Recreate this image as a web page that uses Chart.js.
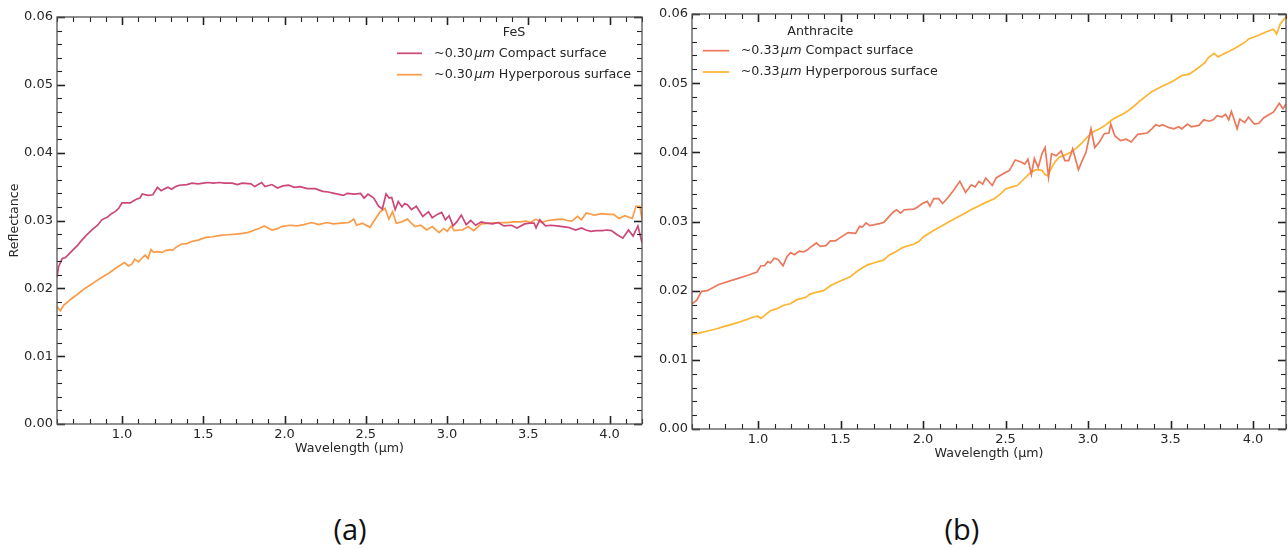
<!DOCTYPE html>
<html>
<head>
<meta charset="utf-8">
<script src="https://cdn.jsdelivr.net/npm/chart.js@4.4.1/dist/chart.umd.min.js"></script>
<style>
  html, body { margin: 0; padding: 0; background: #ffffff; }
  body { width: 1288px; height: 549px; position: relative; overflow: hidden; }
  canvas { position: absolute; top: 0; }
  #cA { left: 0; }
  #cB { left: 650px; }
  .cap { position: absolute; font-family: "Open Sans", "Noto Sans", sans-serif; font-size: 29px; line-height: 1; color: #111; transform: translate(-50%, -50%); }
</style>
</head>
<body>
<canvas id="cA" width="650" height="470"></canvas>
<canvas id="cB" width="638" height="470"></canvas>
<div class="cap" style="left:350px; top:528px;">(a)</div>
<div class="cap" style="left:962px; top:528px;">(b)</div>
<script>
// ---------------- DATA ----------------
const xTickValues = [1.0, 1.5, 2.0, 2.5, 3.0, 3.5, 4.0];
const yTickValues = [0.00, 0.01, 0.02, 0.03, 0.04, 0.05, 0.06];

const fesTitle = 'FeS';
const fesLabels = ['~0.30µm Compact surface', '~0.30µm Hyperporous surface'];
const anthTitle = 'Anthracite';
const anthLabels = ['~0.33µm Compact surface', '~0.33µm Hyperporous surface'];

// FeS compact surface
const fesCompactX = [0.600,0.610,0.632,0.650,0.667,0.700,0.725,0.749,0.780,0.818,
  0.850,0.876,0.911,0.935,0.958,0.980,1.000,1.050,1.085,1.110,
  1.125,1.160,1.190,1.218,1.241,1.265,1.283,1.305,1.330,1.352,
  1.400,1.430,1.469,1.500,1.530,1.562,1.600,1.630,1.678,1.710,
  1.740,1.794,1.817,1.859,1.880,1.922,1.957,1.990,2.026,2.060,
  2.096,2.140,2.189,2.235,2.270,2.305,2.363,2.386,2.430,2.468,
  2.490,2.514,2.549,2.579,2.602,2.625,2.644,2.660,2.681,2.700,
  2.723,2.740,2.758,2.781,2.811,2.851,2.886,2.909,2.940,2.967,
  2.990,3.013,3.037,3.060,3.088,3.118,3.146,3.176,3.211,3.245,
  3.281,3.315,3.350,3.397,3.431,3.478,3.510,3.536,3.548,3.571,
  3.606,3.640,3.675,3.710,3.745,3.792,3.827,3.855,3.885,3.920,
  3.954,3.985,4.012,4.047,4.082,4.117,4.145,4.175,4.200];
const fesCompactY = [0.0217,0.0232,0.0244,0.0245,0.0249,0.0257,0.0263,0.0270,0.0278,0.0287,
  0.0293,0.0301,0.0305,0.0310,0.0313,0.0318,0.0326,0.0326,0.0331,0.0333,
  0.0339,0.0337,0.0338,0.0349,0.0344,0.0347,0.0349,0.0346,0.0350,0.0352,
  0.0353,0.0355,0.0354,0.0355,0.0356,0.0355,0.0356,0.0355,0.0355,0.0353,
  0.0355,0.0354,0.0350,0.0356,0.0350,0.0353,0.0348,0.0351,0.0352,0.0349,
  0.0350,0.0347,0.0347,0.0343,0.0342,0.0340,0.0337,0.0340,0.0339,0.0340,
  0.0333,0.0339,0.0333,0.0321,0.0317,0.0339,0.0333,0.0334,0.0316,0.0328,
  0.0320,0.0325,0.0323,0.0316,0.0321,0.0306,0.0313,0.0304,0.0309,0.0312,
  0.0301,0.0307,0.0292,0.0298,0.0308,0.0294,0.0300,0.0293,0.0298,0.0296,
  0.0295,0.0297,0.0292,0.0293,0.0289,0.0295,0.0296,0.0296,0.0289,0.0301,
  0.0292,0.0293,0.0292,0.0291,0.0290,0.0286,0.0289,0.0286,0.0284,0.0285,
  0.0285,0.0286,0.0285,0.0279,0.0274,0.0286,0.0277,0.0292,0.0267];

// FeS hyperporous surface
const fesPorousX = [0.600,0.621,0.640,0.656,0.685,0.714,0.745,0.772,0.805,0.842,
  0.875,0.911,0.940,0.969,1.016,1.039,1.062,1.078,1.102,1.120,
  1.143,1.160,1.178,1.195,1.218,1.248,1.270,1.294,1.310,1.330,
  1.364,1.399,1.430,1.469,1.515,1.560,1.608,1.650,1.701,1.740,
  1.771,1.817,1.850,1.875,1.900,1.922,1.957,1.980,2.038,2.080,
  2.119,2.166,2.212,2.259,2.300,2.351,2.398,2.426,2.444,2.479,
  2.526,2.561,2.589,2.619,2.642,2.665,2.688,2.720,2.758,2.780,
  2.804,2.839,2.874,2.909,2.951,2.979,3.002,3.025,3.044,3.080,
  3.095,3.130,3.164,3.211,3.270,3.327,3.370,3.408,3.450,3.489,
  3.513,3.548,3.582,3.620,3.652,3.710,3.740,3.768,3.803,3.827,
  3.857,3.908,3.954,3.990,4.024,4.059,4.094,4.140,4.163,4.187,
  4.200];
const fesPorousY = [0.0173,0.0167,0.0175,0.0178,0.0184,0.0189,0.0195,0.0200,0.0205,0.0211,
  0.0216,0.0221,0.0226,0.0231,0.0238,0.0233,0.0236,0.0243,0.0239,0.0244,
  0.0249,0.0244,0.0257,0.0253,0.0254,0.0253,0.0256,0.0257,0.0256,0.0260,
  0.0265,0.0266,0.0269,0.0271,0.0275,0.0276,0.0278,0.0279,0.0280,0.0281,
  0.0282,0.0286,0.0289,0.0292,0.0289,0.0286,0.0288,0.0291,0.0293,0.0292,
  0.0294,0.0297,0.0294,0.0297,0.0295,0.0296,0.0297,0.0302,0.0293,0.0296,
  0.0290,0.0303,0.0313,0.0318,0.0302,0.0313,0.0296,0.0298,0.0302,0.0296,
  0.0291,0.0293,0.0286,0.0291,0.0282,0.0288,0.0284,0.0292,0.0285,0.0286,
  0.0286,0.0291,0.0285,0.0295,0.0296,0.0297,0.0297,0.0298,0.0298,0.0299,
  0.0297,0.0302,0.0297,0.0300,0.0301,0.0302,0.0300,0.0299,0.0306,0.0301,
  0.0311,0.0308,0.0310,0.0309,0.0309,0.0303,0.0307,0.0303,0.0321,0.0321,
  0.0302];

// Anthracite compact surface
const anthCompactX = [0.600,0.628,0.658,0.693,0.762,0.855,0.948,0.994,1.017,1.040,
  1.059,1.075,1.098,1.121,1.152,1.175,1.198,1.221,1.249,1.277,
  1.300,1.319,1.354,1.377,1.411,1.439,1.469,1.500,1.546,1.592,
  1.616,1.632,1.655,1.678,1.736,1.764,1.794,1.817,1.840,1.864,
  1.887,1.945,1.968,1.996,2.026,2.042,2.065,2.095,2.119,2.153,
  2.188,2.223,2.258,2.293,2.316,2.339,2.362,2.380,2.420,2.443,
  2.478,2.524,2.559,2.594,2.617,2.636,2.657,2.675,2.698,2.721,
  2.740,2.761,2.779,2.807,2.837,2.860,2.883,2.907,2.942,2.965,
  2.988,3.018,3.041,3.069,3.099,3.127,3.138,3.162,3.197,3.232,
  3.262,3.301,3.359,3.387,3.410,3.433,3.452,3.487,3.521,3.549,
  3.568,3.603,3.626,3.672,3.702,3.735,3.758,3.783,3.811,3.834,
  3.853,3.869,3.904,3.920,3.950,3.973,4.008,4.036,4.066,4.101,
  4.124,4.159,4.182,4.200];
const anthCompactY = [0.0181,0.0186,0.0199,0.0200,0.0209,0.0216,0.0223,0.0227,0.0236,0.0236,
  0.0242,0.0240,0.0247,0.0245,0.0236,0.0249,0.0255,0.0252,0.0257,0.0256,
  0.0259,0.0263,0.0269,0.0264,0.0265,0.0272,0.0272,0.0277,0.0284,0.0283,
  0.0293,0.0292,0.0298,0.0294,0.0297,0.0299,0.0307,0.0313,0.0317,0.0312,
  0.0317,0.0318,0.0321,0.0326,0.0329,0.0322,0.0333,0.0333,0.0326,0.0335,
  0.0346,0.0358,0.0342,0.0353,0.0350,0.0358,0.0354,0.0363,0.0352,0.0363,
  0.0368,0.0374,0.0389,0.0386,0.0383,0.0390,0.0368,0.0391,0.0378,0.0398,
  0.0407,0.0364,0.0398,0.0395,0.0402,0.0388,0.0388,0.0405,0.0375,0.0388,
  0.0400,0.0434,0.0407,0.0415,0.0427,0.0428,0.0441,0.0424,0.0417,0.0419,
  0.0415,0.0426,0.0428,0.0434,0.0440,0.0438,0.0440,0.0436,0.0434,0.0437,
  0.0434,0.0441,0.0437,0.0439,0.0447,0.0445,0.0447,0.0453,0.0451,0.0455,
  0.0447,0.0459,0.0434,0.0448,0.0443,0.0451,0.0441,0.0442,0.0450,0.0455,
  0.0458,0.0471,0.0463,0.0470];

// Anthracite hyperporous surface
const anthPorousX = [0.600,0.650,0.700,0.750,0.792,0.850,0.893,0.940,0.973,0.998,
  1.018,1.044,1.075,1.115,1.155,1.196,1.236,1.287,1.317,1.358,
  1.398,1.438,1.499,1.559,1.600,1.661,1.700,1.741,1.761,1.792,
  1.840,1.882,1.943,1.975,2.004,2.064,2.110,2.153,2.200,2.246,
  2.300,2.350,2.385,2.432,2.470,2.501,2.540,2.571,2.606,2.652,
  2.687,2.721,2.740,2.756,2.779,2.800,2.826,2.860,2.895,2.930,
  2.965,3.000,3.034,3.070,3.104,3.140,3.174,3.210,3.243,3.280,
  3.313,3.350,3.382,3.420,3.452,3.490,3.521,3.568,3.614,3.650,
  3.684,3.710,3.730,3.765,3.788,3.820,3.846,3.880,3.916,3.950,
  3.974,4.000,4.031,4.078,4.124,4.143,4.166,4.194,4.200];
const anthPorousY = [0.0137,0.0139,0.0142,0.0145,0.0148,0.0152,0.0155,0.0159,0.0162,0.0163,
  0.0160,0.0165,0.0171,0.0174,0.0179,0.0181,0.0187,0.0190,0.0195,0.0198,
  0.0200,0.0207,0.0214,0.0220,0.0228,0.0237,0.0240,0.0243,0.0244,0.0251,
  0.0257,0.0263,0.0267,0.0271,0.0278,0.0287,0.0293,0.0299,0.0305,0.0311,
  0.0318,0.0324,0.0328,0.0333,0.0340,0.0347,0.0350,0.0352,0.0360,0.0371,
  0.0375,0.0374,0.0368,0.0366,0.0378,0.0386,0.0393,0.0396,0.0400,0.0406,
  0.0414,0.0423,0.0430,0.0434,0.0439,0.0446,0.0451,0.0455,0.0460,0.0467,
  0.0474,0.0481,0.0487,0.0492,0.0496,0.0500,0.0504,0.0511,0.0513,0.0519,
  0.0525,0.0530,0.0537,0.0543,0.0538,0.0542,0.0545,0.0549,0.0554,0.0559,
  0.0564,0.0566,0.0569,0.0574,0.0578,0.0571,0.0586,0.0594,0.0597];

// ---------------- RENDERING ----------------
const FONT = "'DejaVu Sans', 'Liberation Sans', sans-serif";
const TEXT = '#262626';
Chart.defaults.font.family = FONT;
Chart.defaults.color = TEXT;

const pts = (xs, ys) => xs.map((x, i) => ({ x: x, y: ys[i] }));

// inward ticks on all four sides plus the box frame
const frameTicks = {
  id: 'frameTicks',
  afterDraw(chart) {
    const { ctx, chartArea: a, scales: { x, y } } = chart;
    ctx.save();
    ctx.strokeStyle = '#222222';
    const seg = (x1, y1, x2, y2) => { ctx.beginPath(); ctx.moveTo(x1, y1); ctx.lineTo(x2, y2); ctx.stroke(); };
    // x ticks: minor 0.1, major 0.5
    for (let k = 6; k <= 42; k++) {
      const v = k / 10;
      const major = (k % 5 === 0);
      const len = major ? 8 : 5;
      const px = Math.round(x.getPixelForValue(v)) + 0.5;
      ctx.lineWidth = major ? 1.6 : 1.1;
      seg(px, a.bottom, px, a.bottom - len);
      seg(px, a.top, px, a.top + len);
    }
    // y ticks: minor 0.002, major 0.01
    for (let k = 0; k <= 30; k++) {
      const v = k * 0.002;
      const major = (k % 5 === 0);
      const len = major ? 8 : 5;
      const py = Math.round(y.getPixelForValue(v)) + 0.5;
      ctx.lineWidth = major ? 1.6 : 1.1;
      seg(a.left, py, a.left + len, py);
      seg(a.right, py, a.right - len, py);
    }
    ctx.strokeStyle = '#555555';
    ctx.lineWidth = 1.3;
    ctx.strokeRect(a.left, a.top, a.right - a.left, a.bottom - a.top);
    ctx.restore();
  }
};

// matplotlib-like frameless legend with title, drawn from the dataset colours/labels
const innerLegend = {
  id: 'innerLegend',
  afterDraw(chart, args, opts) {
    const { ctx } = chart;
    const ds = chart.data.datasets;
    ctx.save();
    ctx.textBaseline = 'middle';
    ctx.fillStyle = TEXT;
    const normal = '12.7px ' + FONT;
    const italic = 'oblique 12.7px ' + FONT;
    let maxRight = 0;
    ds.forEach((d, i) => {
      const yy = opts.rowsY[i];
      ctx.strokeStyle = d.borderColor;
      ctx.lineWidth = 1.7;
      ctx.beginPath();
      ctx.moveTo(opts.handleX, yy);
      ctx.lineTo(opts.handleX + opts.handleLen, yy);
      ctx.stroke();
      const idx = d.label.indexOf('µm');
      const pre = d.label.slice(0, idx);
      const mid = 'µm';
      const post = d.label.slice(idx + 2);
      let cx = opts.textX;
      ctx.font = normal; ctx.textAlign = 'left';
      ctx.fillText(pre, cx, yy); cx += ctx.measureText(pre).width + 1.5;
      ctx.font = italic;
      ctx.fillText(mid, cx, yy); cx += ctx.measureText(mid).width;
      ctx.font = normal;
      ctx.fillText(post, cx, yy); cx += ctx.measureText(post).width;
      maxRight = Math.max(maxRight, cx);
    });
    ctx.font = normal;
    ctx.textAlign = 'center';
    ctx.fillText(opts.title, (opts.handleX + maxRight) / 2, opts.titleY);
    ctx.restore();
  }
};

function makeChart(canvasId, datasets, legendOpts, geom, yTitle) {
  return new Chart(document.getElementById(canvasId), {
    type: 'line',
    data: { datasets: datasets },
    plugins: [frameTicks, innerLegend],
    options: {
      responsive: false,
      animation: false,
      devicePixelRatio: 1,
      layout: { padding: { top: geom.top, right: geom.right, left: 0, bottom: 0 } },
      plugins: {
        legend: { display: false },
        tooltip: { enabled: false },
        innerLegend: legendOpts
      },
      elements: { point: { radius: 0 }, line: { tension: 0, borderWidth: 1.7 } },
      scales: {
        x: {
          type: 'linear', min: 0.6, max: 4.2,
          afterBuildTicks: s => { s.ticks = xTickValues.map(v => ({ value: v })); },
          afterFit: s => { s.height = geom.xHeight; },
          grid: { display: false, drawTicks: false },
          border: { display: false },
          ticks: { padding: 3, font: { size: 13 }, color: TEXT, maxRotation: 0, autoSkip: false,
                   callback: v => Number(v).toFixed(1) },
          title: { display: true, text: 'Wavelength (µm)', color: TEXT, font: { size: 12.6 },
                   padding: { top: 0, bottom: geom.xTitlePad } }
        },
        y: {
          type: 'linear', min: 0, max: 0.06,
          afterBuildTicks: s => { s.ticks = yTickValues.map(v => ({ value: v })); },
          afterFit: s => { s.width = geom.yWidth; },
          grid: { display: false, drawTicks: false },
          border: { display: false },
          ticks: { padding: 4, font: { size: 13 }, color: TEXT, autoSkip: false,
                   callback: v => Number(v).toFixed(2) },
          title: { display: !!yTitle, text: yTitle || '', color: TEXT, font: { size: 12.6 },
                   padding: { top: 7, bottom: 0 } }
        }
      }
    }
  });
}

makeChart('cA', [
  { label: fesLabels[0], data: pts(fesCompactX, fesCompactY), borderColor: '#cc4778', fill: false },
  { label: fesLabels[1], data: pts(fesPorousX, fesPorousY), borderColor: '#fb9b47', fill: false }
], { title: fesTitle, handleX: 397, handleLen: 25, textX: 434, rowsY: [53.3, 74.7], titleY: 33 },
   { top: 17, right: 8, xHeight: 46, yWidth: 57, xTitlePad: 13.5 }, 'Reflectance');

makeChart('cB', [
  { label: anthLabels[0], data: pts(anthCompactX, anthCompactY), borderColor: '#ec785c', fill: false },
  { label: anthLabels[1], data: pts(anthPorousX, anthPorousY), borderColor: '#fdb42f', fill: false }
], { title: anthTitle, handleX: 52.7, handleLen: 26.6, textX: 90.7, rowsY: [50.7, 72], titleY: 31.7 },
   { top: 14, right: 2, xHeight: 41, yWidth: 42, xTitlePad: 8.5 }, null);
</script>
</body>
</html>
